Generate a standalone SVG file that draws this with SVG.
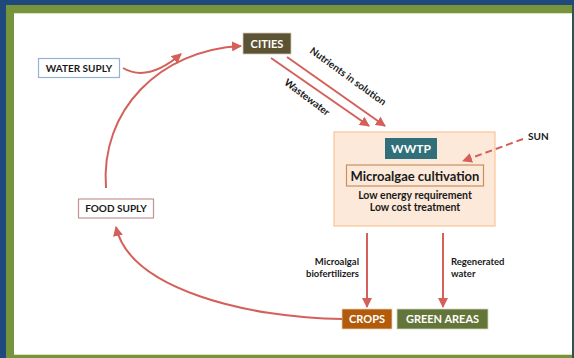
<svg xmlns="http://www.w3.org/2000/svg" width="574" height="358" viewBox="0 0 574 358">
<defs>
<marker id="ah" viewBox="0 0 10 10" refX="9" refY="5" markerWidth="10" markerHeight="10" markerUnits="userSpaceOnUse" orient="auto">
<path d="M0,0 L10,5 L0,10 z" fill="#d5605a"/>
</marker>
<style>
text{font-family:Lato,"Open Sans","Liberation Sans",sans-serif;font-weight:bold}
.w{fill:#ffffff}
.k{fill:#1a1a1a}
.c{stroke:#d5605a;stroke-width:2;fill:none}
</style>
</defs>
<rect x="0" y="0" width="574" height="358" fill="#1f497d"/>
<rect x="6" y="5" width="566" height="353" fill="#77933c"/>
<rect x="572" y="5" width="2" height="353" fill="#2f5450"/>
<rect x="14" y="13" width="558" height="342" fill="#ffffff"/>
<line x1="14" y1="354.5" x2="572" y2="354.5" stroke="#d8e4bc" stroke-width="1"/>
<line x1="14" y1="13.5" x2="572" y2="13.5" stroke="#d8e4bc" stroke-width="1"/>

<g id="cities">
<rect x="243" y="33" width="48" height="21" fill="#5b5333" stroke="#cfcbb8" stroke-width="0.8"/>
<text class="w" font-size="11" text-anchor="middle" x="267" y="47.5">CITIES</text>
</g>
<g id="water-supply">
<rect x="38.5" y="58.5" width="81" height="19" fill="#ffffff" stroke="#95b3d7" stroke-width="1.2"/>
<text class="k" font-size="10" text-anchor="middle" x="79" y="71.5">WATER SUPLY</text>
</g>
<g id="food-supply">
<rect x="78.5" y="199" width="75" height="19" fill="#ffffff" stroke="#c39391" stroke-width="1.2"/>
<text class="k" font-size="10" text-anchor="middle" x="116" y="212">FOOD SUPLY</text>
</g>
<g id="wwtp">
<rect x="334" y="132" width="161" height="94" fill="#fde9d9" stroke="#fac595" stroke-width="1.2"/>
<rect x="385" y="138" width="52" height="21" fill="#31707b"/>
<text class="w" font-size="12" text-anchor="middle" x="411" y="153">WWTP</text>
<rect x="346.5" y="165" width="137" height="21" fill="#fde9d9" stroke="#c8905e" stroke-width="1.2"/>
<text class="k" font-size="13" text-anchor="middle" x="415" y="180.5">Microalgae cultivation</text>
<text class="k" font-size="10.5" text-anchor="middle" x="415" y="199">Low energy requirement</text>
<text class="k" font-size="10.5" text-anchor="middle" x="415" y="211">Low cost treatment</text>
</g>
<g id="sun">
<text class="k" font-size="10" x="528" y="140">SUN</text>
</g>
<g id="crops">
<rect x="342" y="309" width="50" height="20" fill="#b25b0b" stroke="#e8d0b8" stroke-width="0.8"/>
<text class="w" font-size="11" text-anchor="middle" x="367" y="323">CROPS</text>
</g>
<g id="green-areas">
<rect x="397" y="309" width="91" height="20" fill="#637538" stroke="#d0d8c0" stroke-width="0.8"/>
<text class="w" font-size="11" text-anchor="middle" x="442.5" y="323">GREEN AREAS</text>
</g>

<g id="connectors">
<path class="c" d="M123,68 C140,78 160,72 181,54" marker-end="url(#ah)"/>
<path class="c" d="M106,188 C100,110 160,50 241,46" marker-end="url(#ah)"/>
<path class="c" d="M342,319 C250,318 130,290 116,227" marker-end="url(#ah)"/>
<line class="c" x1="271" y1="58" x2="369" y2="126" marker-end="url(#ah)"/>
<line class="c" x1="287" y1="57" x2="385" y2="126" marker-end="url(#ah)"/>
<line class="c" x1="523" y1="139" x2="463" y2="161" stroke-dasharray="7,4" marker-end="url(#ah)"/>
<line class="c" x1="367" y1="233" x2="367" y2="307" marker-end="url(#ah)"/>
<line class="c" x1="443" y1="233" x2="443" y2="307" marker-end="url(#ah)"/>
<text class="k" font-size="10" text-anchor="middle" transform="translate(346,79) rotate(36)">Nutrients in solution</text>
<text class="k" font-size="10" text-anchor="middle" transform="translate(305,100) rotate(37)">Wastewater</text>
<text class="k" font-size="9.5" text-anchor="end" x="359" y="265">Microalgal</text>
<text class="k" font-size="9.5" text-anchor="end" x="359" y="277">biofertilizers</text>
<text class="k" font-size="9.5" x="451" y="265">Regenerated</text>
<text class="k" font-size="9.5" x="451" y="277">water</text>
</g>
</svg>
